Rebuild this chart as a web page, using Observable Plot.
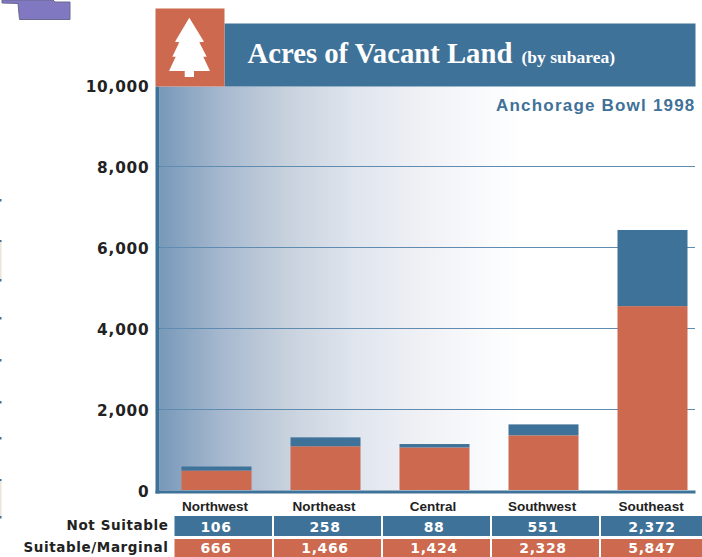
<!DOCTYPE html>
<html>
<head>
<meta charset="utf-8">
<script src="https://cdn.jsdelivr.net/npm/d3@7"></script>
<script src="https://cdn.jsdelivr.net/npm/@observablehq/plot@0.6"></script>
<style>
html,body{margin:0;padding:0;background:#fff;overflow:hidden}
svg{display:block}
.tick-num text,.tick-num{letter-spacing:.8px}
.row-lab{letter-spacing:.6px}
.cell-val{letter-spacing:.6px}
.sub-lab{letter-spacing:1.2px}
</style>
</head>
<body>
<div id="chart"></div>
<script>
const subareas = ["Northwest","Northeast","Central","Southwest","Southeast"];
const kinds = ["Suitable/Marginal","Not Suitable"];
const kindColors = ["#cc694e","#3f7298"];
// bar heights as drawn in the picture
const drawnSuitable = [480,1080,1050,1350,4540];
const drawnNotSuitable = [100,220,85,270,1880];
// table values as printed
const tableSuitable = [666,1466,1424,2328,5847];
const tableNotSuitable = [106,258,88,551,2372];
const yTicks = [0,2000,4000,6000,8000,10000];
const gridValues = [2000,4000,6000,8000];

const bars = [
  ...subareas.map((s,i)=>({subarea:s,kind:kinds[0],value:drawnSuitable[i]})),
  ...subareas.map((s,i)=>({subarea:s,kind:kinds[1],value:drawnNotSuitable[i]}))
];
const rowNot = subareas.map((s,i)=>({subarea:s,kind:kinds[1],value:tableNotSuitable[i]}));
const rowSuit = subareas.map((s,i)=>({subarea:s,kind:kinds[0],value:tableSuitable[i]}));

const W=702,H=557;
const sans='"DejaVu Sans",sans-serif';
const blue=kindColors[1], red=kindColors[0];
const fmt=d3.format(",");

const panel = (l,r,t,b,fill)=>Plot.frame({stroke:null,fill,insetLeft:l,insetRight:W-r,insetTop:t,insetBottom:H-b});

const defsMark = ()=>{
  const g=d3.create("svg:g");
  const lg=g.append("defs").append("linearGradient").attr("id","fade");
  [[.005,"#7a9aba"],[.118,"#a7b9cf"],[.24,"#c8d2de"],[.366,"#e0e5ee"],[.49,"#eff1f5"],[.614,"#fafbfd"],[.677,"#ffffff"],[1,"#ffffff"]].forEach(([o,c])=>
    lg.append("stop").attr("offset",o).attr("stop-color",c));
  return g.node();
};
const decoMark = ()=>{
  const g=d3.create("svg:g");
  g.append("path")
   .attr("d","M189.3 17.7 L204 41.7 L199.3 42.3 L206.7 56.7 L203.3 56.7 L210 71 L194 71 L194 77 L184.7 77 L184.7 71 L169 71 L175.7 56.7 L172.3 56.7 L179.3 42.3 L175 41.7 Z")
   .attr("fill","#fff");
  g.append("path")
   .attr("d","M2 0 L2 3 L18 3.5 L19.5 19.5 L70 19.5 L70 2 L55 2 L53 0 Z")
   .attr("fill","#8078c0").attr("stroke","#6a6a90").attr("stroke-width",1);
  [200,241,280,318,360,402,438,480,517].forEach(y=>
    g.append("rect").attr("x",0).attr("y",y-1).attr("width",1.5).attr("height",2.5).attr("fill",blue));
  [[242,279],[481,516]].forEach(([a,b])=>
    g.append("rect").attr("x",0).attr("y",a).attr("width",1.5).attr("height",b-a).attr("fill","#ece4d8"));
  return g.node();
};

const chart = Plot.plot({
  width:W,height:H,
  marginTop:0,marginBottom:0,marginLeft:0,marginRight:0,
  style:{background:"#fff"},
  x:{type:"band",domain:subareas,range:[161.5,706.5],padding:0,axis:null},
  y:{domain:[0,10000],range:[490,85],axis:null},
  color:{domain:kinds,range:kindColors},
  marks:[
    defsMark,
    panel(159,695,86,490,"url(#fade)"),
    Plot.ruleY(gridValues,{y:d=>d,stroke:"#5f8cb0",strokeWidth:1,insetLeft:159,insetRight:W-695}),
    Plot.barY(bars,{x:"subarea",y:"value",fill:"kind",order:kinds,insetLeft:19.5,insetRight:19.5}),
    panel(155,159,86,493,blue),
    panel(155,695,490,493,blue),
    panel(224,695,23,86,blue),
    panel(155,224,8,86,red),
    decoMark,
    Plot.text(yTicks,{y:d=>d,text:d=>fmt(d),frameAnchor:"left",dx:149,dy:1.5,textAnchor:"end",lineAnchor:"middle",className:"tick-num",
      fontFamily:sans,fontWeight:"bold",fontSize:15.3,fill:"#222"}),
    Plot.text(["Acres of Vacant Land"],{frameAnchor:"top-left",dx:247,dy:53,textAnchor:"start",lineAnchor:"middle",fill:"#fff",
      fontFamily:'"Liberation Serif",serif',fontWeight:"bold",fontSize:28.7}),
    Plot.text(["(by subarea)"],{frameAnchor:"top-left",dx:521,dy:57,textAnchor:"start",lineAnchor:"middle",fill:"#fff",
      fontFamily:'"Liberation Serif",serif',fontWeight:"bold",fontSize:17.5}),
    Plot.text(["Anchorage Bowl 1998"],{frameAnchor:"top-left",dx:695,dy:105,textAnchor:"end",lineAnchor:"middle",fill:blue,
      fontFamily:'"Liberation Sans",sans-serif',fontWeight:"bold",fontSize:17,className:"sub-lab"}),
    Plot.text(subareas,{x:d=>d,frameAnchor:"top",dy:506.5,fill:"#222",dx:-2,lineAnchor:"middle",
      fontFamily:'"Liberation Sans Narrow","Liberation Sans",sans-serif',fontWeight:"bold",fontSize:13.5}),
    // table rows
    Plot.cell(rowNot,{x:"subarea",fill:"kind",filter:d=>d.subarea!==subareas[0],insetLeft:1,insetRight:1,dx:2,insetTop:516,insetBottom:H-536}),
    Plot.cell(rowNot,{x:"subarea",fill:"kind",filter:d=>d.subarea===subareas[0],insetLeft:10.5,insetRight:1,dx:2,insetTop:516,insetBottom:H-536}),
    Plot.cell(rowSuit,{x:"subarea",fill:"kind",filter:d=>d.subarea!==subareas[0],insetLeft:1,insetRight:1,dx:2,insetTop:539,insetBottom:0}),
    Plot.cell(rowSuit,{x:"subarea",fill:"kind",filter:d=>d.subarea===subareas[0],insetLeft:10.5,insetRight:1,dx:2,insetTop:539,insetBottom:0}),
    Plot.text(rowNot,{x:"subarea",text:d=>fmt(d.value),frameAnchor:"top",dy:527,dx:-1,lineAnchor:"middle",fill:"#fff",
      fontFamily:sans,fontWeight:"bold",fontSize:14,className:"cell-val"}),
    Plot.text(rowSuit,{x:"subarea",text:d=>fmt(d.value),frameAnchor:"top",dy:548.5,dx:-1,lineAnchor:"middle",fill:"#fff",
      fontFamily:sans,fontWeight:"bold",fontSize:14,className:"cell-val"}),
    Plot.text([kinds[1]],{frameAnchor:"top-left",dx:168,dy:525,textAnchor:"end",lineAnchor:"middle",fill:"#222",
      fontFamily:sans,fontWeight:"bold",fontSize:13.5,className:"row-lab"}),
    Plot.text([kinds[0]],{frameAnchor:"top-left",dx:168,dy:547,textAnchor:"end",lineAnchor:"middle",fill:"#222",
      fontFamily:sans,fontWeight:"bold",fontSize:13.5,className:"row-lab"})
  ]
});
document.getElementById("chart").append(chart);
</script>
</body>
</html>
